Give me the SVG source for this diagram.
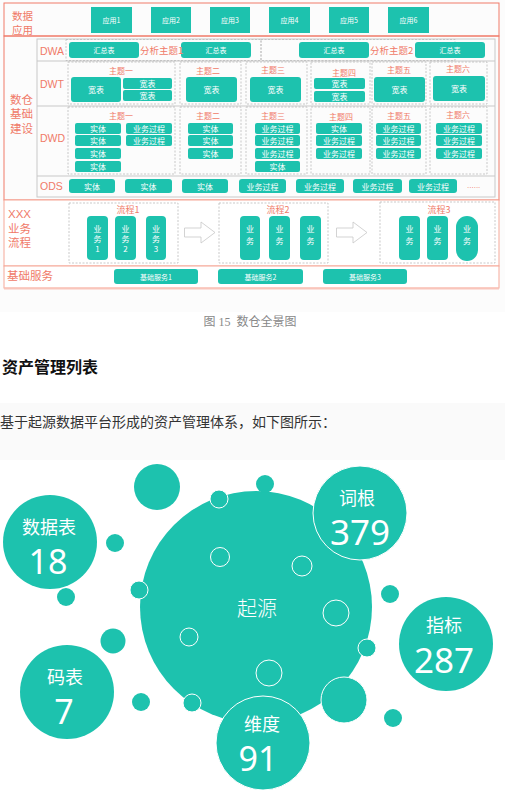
<svg xmlns="http://www.w3.org/2000/svg" width="505" height="791" viewBox="0 0 505 791">
<style>
.red{fill:#F07A68;font-family:"Liberation Sans","Noto Sans CJK SC",sans-serif;}
.lbl{fill:#F07A68;font-family:"Noto Sans CJK SC",sans-serif;}
.box{fill:#1DC2AE;}
.wt{fill:#fff;font-family:"Noto Sans CJK SC",sans-serif;text-anchor:middle;dominant-baseline:central;}
.dash{fill:none;stroke:#bbb;stroke-width:0.8;stroke-dasharray:2,1.5;}
.gray{fill:none;stroke:#c8c8c8;stroke-width:1;}
.sec{fill:none;stroke:#F07A68;stroke-width:1;}
.tc{fill:#F07A68;font-family:"Noto Sans CJK SC",sans-serif;text-anchor:middle;dominant-baseline:central;font-size:8px;}
.teal{fill:#1DC2AE;}
.ring{fill:#1DC2AE;stroke:#fff;stroke-width:1;}
.hollow{fill:none;stroke:#fff;stroke-width:1;}
.bt{fill:#fff;font-family:"Noto Sans CJK SC",sans-serif;text-anchor:middle;dominant-baseline:central;}
.num{fill:#fff;font-family:"Noto Sans","Liberation Sans",sans-serif;text-anchor:middle;dominant-baseline:central;}
</style>
<rect x="0" y="0" width="505" height="312" fill="#fcfcfc"/>
<rect x="0" y="403" width="505" height="57" fill="#fafafa"/>

<g id="frames">
<rect x="4" y="3" width="495" height="33" fill="#fff" class="sec"/>
<rect x="4" y="36" width="495" height="164" fill="#fff" class="sec"/>
<rect x="4" y="200" width="495" height="66" fill="#fff" stroke="#F5A898" stroke-width="1"/>
<rect x="4" y="266" width="495" height="22" fill="#fff" stroke="#F5A898" stroke-width="1"/>
<line x1="4" y1="288.5" x2="499" y2="288.5" stroke="#F9C5BB" stroke-width="2"/>
<rect x="37" y="39" width="458" height="158" class="gray"/>
<line x1="37" y1="61" x2="495" y2="61" stroke="#c8c8c8"/>
<line x1="37" y1="106" x2="495" y2="106" stroke="#c8c8c8"/>
<line x1="37" y1="176" x2="495" y2="176" stroke="#c8c8c8"/>
</g>

<g id="label-data-app">
<text class="lbl" font-size="10.5" x="12" y="19.5">数据</text>
<text class="lbl" font-size="10.5" x="12" y="34">应用</text>
</g>
<g id="apps">
<rect class="box" x="91" y="7" width="41" height="26"/><text class="wt" font-size="7" x="111.5" y="20">应用1</text>
<rect class="box" x="151" y="7" width="40" height="26"/><text class="wt" font-size="7" x="171" y="20">应用2</text>
<rect class="box" x="210" y="7" width="40" height="26"/><text class="wt" font-size="7" x="230" y="20">应用3</text>
<rect class="box" x="269" y="7" width="41" height="26"/><text class="wt" font-size="7" x="289.5" y="20">应用4</text>
<rect class="box" x="329" y="7" width="40" height="26"/><text class="wt" font-size="7" x="349" y="20">应用5</text>
<rect class="box" x="388" y="7" width="41" height="26"/><text class="wt" font-size="7" x="408.5" y="20">应用6</text>
</g>

<g id="label-dw">
<text class="lbl" font-size="11.5" x="10" y="103.5">数仓</text>
<text class="lbl" font-size="11.5" x="10" y="118">基础</text>
<text class="lbl" font-size="11.5" x="10" y="132.5">建设</text>
</g>

<g id="dwa">
<text class="red" font-size="10.5" x="40" y="55">DWA</text>
<rect class="dash" x="66" y="39.5" width="195" height="21"/>
<rect class="dash" x="261" y="39.5" width="194" height="21"/>
<rect class="box" x="69" y="42" width="70" height="16" rx="3"/><text class="wt" font-size="7" x="104" y="50">汇总表</text>
<rect class="box" x="181" y="42" width="70" height="16" rx="3"/><text class="wt" font-size="7" x="216" y="50">汇总表</text>
<text class="lbl" font-size="9.5" x="140" y="53.5">分析主题1</text>
<rect class="box" x="299" y="42" width="70" height="16" rx="3"/><text class="wt" font-size="7" x="334" y="50">汇总表</text>
<rect class="box" x="415" y="42" width="70" height="16" rx="3"/><text class="wt" font-size="7" x="450" y="50">汇总表</text>
<text class="lbl" font-size="9.5" x="370" y="53.5">分析主题2</text>
</g>

<g id="dwt">
<text class="red" font-size="10.5" x="40" y="88">DWT</text>
<rect class="dash" x="68" y="62" width="107" height="42"/>
<rect class="dash" x="180" y="62" width="61" height="42"/>
<rect class="dash" x="246" y="62" width="61" height="42"/>
<rect class="dash" x="311" y="62" width="59" height="42"/>
<rect class="dash" x="372" y="62" width="54" height="42"/>
<rect class="dash" x="430" y="62" width="57" height="42"/>
<text class="tc" x="121" y="70">主题一</text>
<text class="tc" x="208" y="70">主题二</text>
<text class="tc" x="273" y="69">主题三</text>
<text class="tc" x="344" y="72">主题四</text>
<text class="tc" x="399" y="69">主题五</text>
<text class="tc" x="458" y="68">主题六</text>
<rect class="box" x="71" y="77" width="50" height="25" rx="3"/><text class="wt" font-size="8" x="96" y="89.5">宽表</text>
<rect class="box" x="123" y="78" width="49" height="11" rx="2"/><text class="wt" font-size="8" x="147.5" y="83.5">宽表</text>
<rect class="box" x="123" y="90" width="49" height="11" rx="2"/><text class="wt" font-size="8" x="147.5" y="95.5">宽表</text>
<rect class="box" x="186" y="77" width="51" height="25" rx="3"/><text class="wt" font-size="8" x="211.5" y="89.5">宽表</text>
<rect class="box" x="250" y="77" width="51" height="25" rx="3"/><text class="wt" font-size="8" x="275.5" y="89.5">宽表</text>
<rect class="box" x="314" y="78" width="51" height="11" rx="2"/><text class="wt" font-size="8" x="339.5" y="83.5">宽表</text>
<rect class="box" x="314" y="91" width="51" height="11" rx="2"/><text class="wt" font-size="8" x="339.5" y="96.5">宽表</text>
<rect class="box" x="374" y="77" width="51" height="25" rx="3"/><text class="wt" font-size="8" x="399.5" y="89.5">宽表</text>
<rect class="box" x="433" y="76" width="52" height="25" rx="3"/><text class="wt" font-size="8" x="459" y="88.5">宽表</text>
</g>

<g id="dwd">
<text class="red" font-size="10.5" x="40" y="142">DWD</text>
<rect class="dash" x="68" y="107" width="107" height="67"/>
<rect class="dash" x="180" y="107" width="61" height="67"/>
<rect class="dash" x="246" y="107" width="61" height="67"/>
<rect class="dash" x="311" y="107" width="59" height="67"/>
<rect class="dash" x="372" y="107" width="54" height="67"/>
<rect class="dash" x="430" y="107" width="57" height="67"/>
<text class="tc" x="121" y="115">主题一</text>
<text class="tc" x="208" y="115">主题二</text>
<text class="tc" x="273" y="115">主题三</text>
<text class="tc" x="341" y="116">主题四</text>
<text class="tc" x="399" y="115">主题五</text>
<text class="tc" x="458" y="114">主题六</text>
<rect class="box" x="75" y="123" width="46" height="11" rx="2"/><text class="wt" font-size="8" x="98" y="128.5">实体</text>
<rect class="box" x="75" y="135" width="46" height="11" rx="2"/><text class="wt" font-size="8" x="98" y="140.5">实体</text>
<rect class="box" x="75" y="148" width="46" height="11" rx="2"/><text class="wt" font-size="8" x="98" y="153.5">实体</text>
<rect class="box" x="75" y="161" width="46" height="11" rx="2"/><text class="wt" font-size="8" x="98" y="166.5">实体</text>
<rect class="box" x="126" y="123" width="46" height="11" rx="2"/><text class="wt" font-size="8" x="149" y="128.5">业务过程</text>
<rect class="box" x="126" y="135" width="46" height="11" rx="2"/><text class="wt" font-size="8" x="149" y="140.5">业务过程</text>
<rect class="box" x="188" y="123" width="45" height="11" rx="2"/><text class="wt" font-size="8" x="210.5" y="128.5">实体</text>
<rect class="box" x="188" y="135" width="45" height="11" rx="2"/><text class="wt" font-size="8" x="210.5" y="140.5">实体</text>
<rect class="box" x="188" y="148" width="45" height="11" rx="2"/><text class="wt" font-size="8" x="210.5" y="153.5">实体</text>
<rect class="box" x="255" y="123" width="45" height="11" rx="2"/><text class="wt" font-size="8" x="277.5" y="128.5">业务过程</text>
<rect class="box" x="255" y="135" width="45" height="11" rx="2"/><text class="wt" font-size="8" x="277.5" y="140.5">业务过程</text>
<rect class="box" x="255" y="148" width="45" height="11" rx="2"/><text class="wt" font-size="8" x="277.5" y="153.5">业务过程</text>
<rect class="box" x="255" y="161" width="45" height="11" rx="2"/><text class="wt" font-size="8" x="277.5" y="166.5">实体</text>
<rect class="box" x="316" y="123" width="46" height="11" rx="2"/><text class="wt" font-size="8" x="339" y="128.5">实体</text>
<rect class="box" x="316" y="135" width="46" height="11" rx="2"/><text class="wt" font-size="8" x="339" y="140.5">业务过程</text>
<rect class="box" x="316" y="148" width="46" height="11" rx="2"/><text class="wt" font-size="8" x="339" y="153.5">业务过程</text>
<rect class="box" x="376" y="123" width="45" height="11" rx="2"/><text class="wt" font-size="8" x="398.5" y="128.5">业务过程</text>
<rect class="box" x="376" y="135" width="45" height="11" rx="2"/><text class="wt" font-size="8" x="398.5" y="140.5">业务过程</text>
<rect class="box" x="376" y="148" width="45" height="11" rx="2"/><text class="wt" font-size="8" x="398.5" y="153.5">业务过程</text>
<rect class="box" x="436" y="123" width="46" height="11" rx="2"/><text class="wt" font-size="8" x="459" y="128.5">业务过程</text>
<rect class="box" x="436" y="135" width="46" height="11" rx="2"/><text class="wt" font-size="8" x="459" y="140.5">业务过程</text>
<rect class="box" x="436" y="148" width="46" height="11" rx="2"/><text class="wt" font-size="8" x="459" y="153.5">业务过程</text>
</g>

<g id="ods">
<text class="red" font-size="10.5" x="40" y="190">ODS</text>
<rect class="box" x="69" y="179" width="46" height="14" rx="3"/><text class="wt" font-size="8" x="92" y="186">实体</text>
<rect class="box" x="125" y="179" width="47" height="14" rx="3"/><text class="wt" font-size="8" x="148.5" y="186">实体</text>
<rect class="box" x="182" y="179" width="46" height="14" rx="3"/><text class="wt" font-size="8" x="205" y="186">实体</text>
<rect class="box" x="239" y="179" width="47" height="14" rx="3"/><text class="wt" font-size="8" x="262.5" y="186">业务过程</text>
<rect class="box" x="296" y="179" width="48" height="14" rx="3"/><text class="wt" font-size="8" x="320" y="186">业务过程</text>
<rect class="box" x="353" y="179" width="49" height="14" rx="3"/><text class="wt" font-size="8" x="377.5" y="186">业务过程</text>
<rect class="box" x="409" y="179" width="48" height="14" rx="3"/><text class="wt" font-size="8" x="433" y="186">业务过程</text>
<text class="red" font-size="8" x="467" y="188">......</text>
</g>

<g id="label-flow">
<text class="red" font-size="11.5" x="8" y="218">XXX</text>
<text class="lbl" font-size="11.5" x="8" y="232.5">业务</text>
<text class="lbl" font-size="11.5" x="8" y="247">流程</text>
</g>

<g id="flow1">
<rect class="dash" x="69" y="203" width="109" height="60"/>
<text class="tc" x="128" y="209" style="font-size:9px">流程1</text>
<rect class="box" x="87" y="216" width="21" height="44" rx="4"/>
<text class="wt" font-size="8" x="97.5" y="228">业</text><text class="wt" font-size="8" x="97.5" y="238">务</text><text class="wt" font-size="8" x="97.5" y="248">1</text>
<rect class="box" x="115" y="216" width="21" height="44" rx="4"/>
<text class="wt" font-size="8" x="125.5" y="228">业</text><text class="wt" font-size="8" x="125.5" y="238">务</text><text class="wt" font-size="8" x="125.5" y="248">2</text>
<rect class="box" x="146" y="216" width="20" height="44" rx="4"/>
<text class="wt" font-size="8" x="156" y="228">业</text><text class="wt" font-size="8" x="156" y="238">务</text><text class="wt" font-size="8" x="156" y="248">3</text>
</g>

<g id="flow2">
<rect class="dash" x="219" y="203" width="109" height="60"/>
<text class="tc" x="278" y="209" style="font-size:9px">流程2</text>
<rect class="box" x="240" y="216" width="20" height="44" rx="4"/>
<text class="wt" font-size="8" x="250" y="228">业</text><text class="wt" font-size="8" x="250" y="240">务</text>
<rect class="box" x="269" y="216" width="21" height="44" rx="4"/>
<text class="wt" font-size="8" x="279.5" y="228">业</text><text class="wt" font-size="8" x="279.5" y="240">务</text>
<rect class="box" x="300" y="216" width="21" height="44" rx="4"/>
<text class="wt" font-size="8" x="310.5" y="228">业</text><text class="wt" font-size="8" x="310.5" y="240">务</text>
</g>

<g id="flow3">
<rect class="dash" x="380" y="202" width="115" height="61"/>
<text class="tc" x="439" y="209" style="font-size:9px">流程3</text>
<rect class="box" x="399" y="216" width="21" height="44" rx="4"/>
<text class="wt" font-size="8" x="409.5" y="228">业</text><text class="wt" font-size="8" x="409.5" y="240">务</text>
<rect class="box" x="427" y="216" width="21" height="44" rx="4"/>
<text class="wt" font-size="8" x="437.5" y="228">业</text><text class="wt" font-size="8" x="437.5" y="240">务</text>
<rect class="box" x="456" y="216" width="22" height="45" rx="11"/>
<text class="wt" font-size="8" x="467" y="228">业</text><text class="wt" font-size="8" x="467" y="240">务</text>
</g>

<g id="connectors">
<path d="M184.5,228 L201,228 L201,222 L215,232.5 L201,243 L201,237 L184.5,237 Z" fill="#fff" stroke="#c8c8c8" stroke-width="0.8"/>
<path d="M336.5,228 L353,228 L353,222 L367,232.5 L353,243 L353,237 L336.5,237 Z" fill="#fff" stroke="#c8c8c8" stroke-width="0.8"/>
</g>

<g id="base-services">
<text class="lbl" font-size="11.5" x="7" y="280">基础服务</text>
<rect class="box" x="114" y="269" width="84" height="15" rx="3"/><text class="wt" font-size="7" x="156" y="276.5">基础服务1</text>
<rect class="box" x="218" y="269" width="85" height="15" rx="3"/><text class="wt" font-size="7" x="260.5" y="276.5">基础服务2</text>
<rect class="box" x="323" y="269" width="84" height="15" rx="3"/><text class="wt" font-size="7" x="365" y="276.5">基础服务3</text>
</g>

<g id="caption">
<text x="250" y="326" font-size="12" fill="#888" text-anchor="middle" font-family="'Liberation Serif','Noto Sans CJK SC',serif">图 15&#160; 数仓全景图</text>
</g>
<g id="heading">
<text x="2" y="373" font-size="16" font-weight="bold" fill="#111" font-family="'Noto Sans CJK SC',sans-serif">资产管理列表</text>
</g>
<g id="paragraph">
<text x="0" y="427" font-size="14" fill="#333" font-family="'Noto Sans CJK SC',sans-serif">基于起源数据平台形成的资产管理体系，如下图所示：</text>
</g>

<g id="bubbles">
<circle class="teal" cx="256" cy="607" r="116"/>
<circle class="teal" cx="157" cy="487" r="23"/>
<circle class="teal" cx="265" cy="484" r="9"/>
<circle class="ring" cx="219" cy="499" r="9"/>
<circle class="teal" cx="115" cy="543" r="9"/>
<circle class="teal" cx="66" cy="597" r="9"/>
<circle class="ring" cx="139" cy="590" r="9"/>
<circle class="teal" cx="390" cy="594" r="9"/>
<circle class="teal" cx="113" cy="641" r="12.5"/>
<circle class="ring" cx="367" cy="648" r="9"/>
<circle class="teal" cx="141" cy="702" r="9"/>
<circle class="ring" cx="192" cy="703" r="9"/>
<circle class="ring" cx="344" cy="700" r="23"/>
<circle class="teal" cx="393" cy="718" r="9"/>
<circle class="hollow" cx="220" cy="557" r="9.5"/>
<circle class="hollow" cx="302" cy="566" r="10"/>
<circle class="hollow" cx="336" cy="613" r="13"/>
<circle class="hollow" cx="189" cy="637" r="9"/>
<circle class="hollow" cx="269" cy="673" r="13"/>
<text class="bt" x="257" y="607" font-size="20" font-weight="300">起源</text>
</g>
<g id="node-shujubiao">
<circle class="teal" cx="50" cy="542" r="47"/>
<text class="bt" x="49" y="526" font-size="18">数据表</text>
<text class="num" x="48" y="561" font-size="34">18</text>
</g>
<g id="node-cigen">
<circle class="ring" cx="360" cy="513" r="47"/>
<text class="bt" x="357" y="497" font-size="18">词根</text>
<text class="num" x="360" y="531" font-size="35">379</text>
</g>
<g id="node-zhibiao">
<circle class="teal" cx="446" cy="644" r="47"/>
<text class="bt" x="444" y="624" font-size="18">指标</text>
<text class="num" x="444" y="659" font-size="35">287</text>
</g>
<g id="node-mabiao">
<circle class="teal" cx="67" cy="692" r="47"/>
<text class="bt" x="65" y="676" font-size="18">码表</text>
<text class="num" x="64" y="711" font-size="34">7</text>
</g>
<g id="node-weidu">
<circle class="ring" cx="263" cy="743" r="47"/>
<text class="bt" x="262" y="722.5" font-size="18">维度</text>
<text class="num" x="258" y="758" font-size="34">91</text>
</g>
</svg>
